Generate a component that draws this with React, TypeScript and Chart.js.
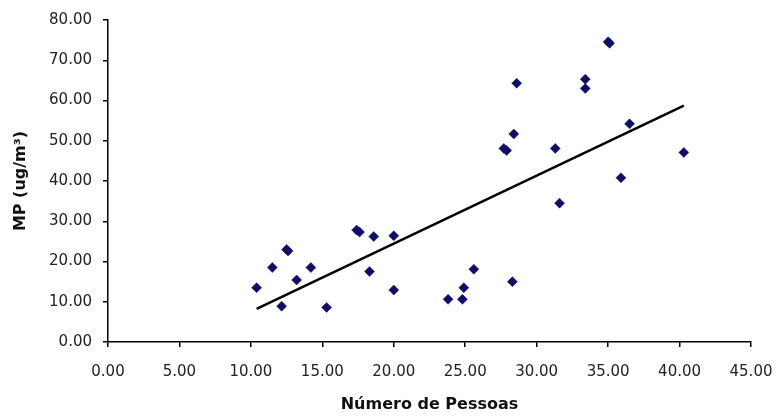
import React, { useEffect, useRef } from "react";
import { Chart, registerables } from "chart.js";

Chart.register(...registerables);

// Número de Pessoas (x) vs MP (ug/m³) (y)
const pessoas: number[] = [
  10.4, 11.5, 12.5, 12.6, 12.15, 13.2, 14.2, 15.3, 17.4, 17.6, 18.6, 18.3,
  20.0, 20.0, 23.8, 24.8, 24.9, 25.6, 28.3, 28.6, 28.4, 27.7, 27.9, 35.0,
  35.1, 33.4, 33.4, 36.5, 31.3, 40.3, 35.9, 31.6,
];
const mp: number[] = [
  13.5, 18.5, 23.0, 22.6, 8.9, 15.4, 18.5, 8.6, 27.8, 27.3, 26.2, 17.5,
  26.4, 12.9, 10.6, 10.6, 13.5, 18.1, 15.0, 64.3, 51.7, 48.1, 47.6, 74.6,
  74.2, 65.3, 63.0, 54.2, 48.1, 47.1, 40.8, 34.5,
];

// Linear trendline (Excel), endpoints
const trendX: number[] = [10.4, 40.3];
const trendY: number[] = [8.2, 58.7];

const xTicksMax = 45;
const yTicksMax = 80;

export default function App() {
  const ref = useRef<HTMLCanvasElement | null>(null);

  useEffect(() => {
    if (!ref.current) return;
    const pts = pessoas.map((x, i) => ({ x, y: mp[i] }));
    const trend = trendX.map((x, i) => ({ x, y: trendY[i] }));
    const tickFont = { family: "'DejaVu Sans', sans-serif", size: 15 };
    const titleFont = { family: "'DejaVu Sans', sans-serif", size: 16, weight: "bold" as const };

    const chart = new Chart(ref.current, {
      type: "scatter",
      data: {
        datasets: [
          {
            label: "MP",
            data: pts,
            pointStyle: "rectRot",
            pointRadius: 5,
            pointBorderWidth: 0.5,
            backgroundColor: "#0e0e6a",
            borderColor: "#0e0e6a",
            order: 2,
          },
          {
            label: "Linear",
            type: "line",
            data: trend,
            borderColor: "#000000",
            borderWidth: 2.5,
            pointRadius: 0,
            fill: false,
            order: 1,
          },
        ],
      },
      options: {
        responsive: false,
        animation: false,
        devicePixelRatio: 1,
        layout: { padding: { left: 0, right: 29, top: 20, bottom: 0 } },
        plugins: {
          legend: { display: false },
          tooltip: { enabled: false },
        },
        scales: {
          x: {
            type: "linear",
            min: 0,
            max: xTicksMax,
            afterFit: (s: any) => {
              s.height = 75;
              s.paddingLeft = 0;
              s.paddingRight = 0;
            },
            ticks: {
              stepSize: 5,
              color: "#222",
              font: tickFont,
              padding: 16,
              maxRotation: 0,
              callback: (v: any) => Number(v).toFixed(2),
            },
            grid: {
              drawOnChartArea: false,
              drawTicks: true,
              tickLength: 5,
              color: "#000",
              lineWidth: 1.5,
            },
            border: { color: "#000", width: 1.5 },
            title: {
              display: true,
              text: "Número de Pessoas",
              color: "#111",
              font: titleFont,
              padding: { top: 0, bottom: 3 },
            },
          },
          y: {
            type: "linear",
            min: 0,
            max: yTicksMax,
            afterFit: (s: any) => {
              s.width = 108;
              s.paddingTop = 0;
              s.paddingBottom = 0;
            },
            ticks: {
              stepSize: 10,
              color: "#222",
              font: tickFont,
              padding: 11,
              callback: (v: any) => Number(v).toFixed(2),
            },
            grid: {
              drawOnChartArea: false,
              drawTicks: true,
              tickLength: 5,
              color: "#000",
              lineWidth: 1.5,
            },
            border: { color: "#000", width: 1.5 },
            title: {
              display: true,
              text: "MP (ug/m³)",
              color: "#111",
              font: titleFont,
              padding: { top: 11, bottom: 0 },
            },
          },
        },
      },
    });
    return () => chart.destroy();
  }, []);

  return (
    <div style={{ position: "fixed", left: 0, top: 0, width: 780, height: 417, background: "#fff" }}>
      <canvas ref={ref} width={780} height={417} />
    </div>
  );
}
